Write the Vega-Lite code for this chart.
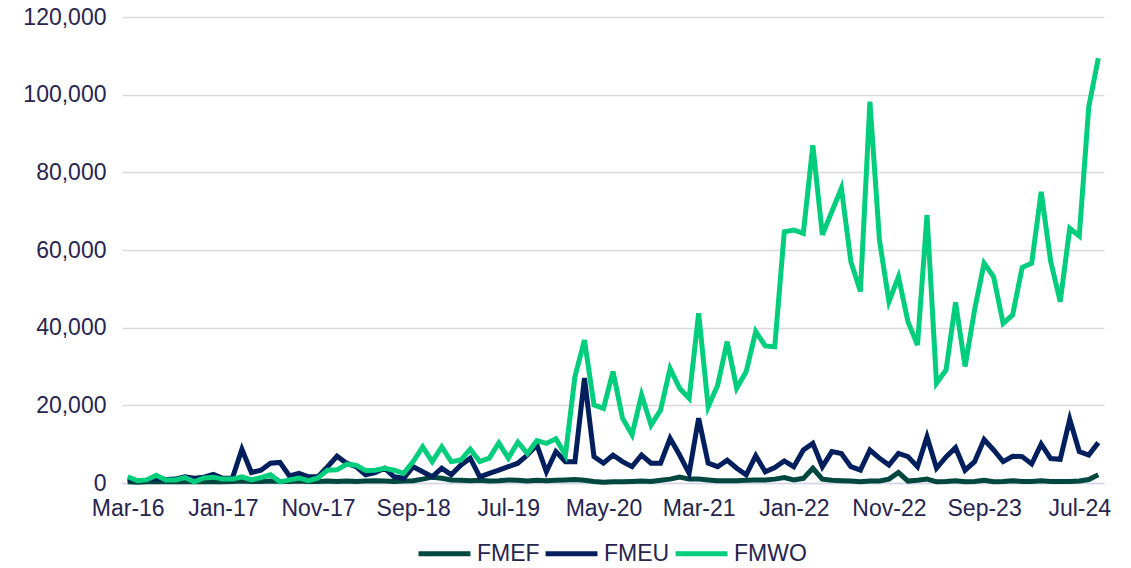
{
  "$schema": "https://vega.github.io/schema/vega-lite/v6.json",
  "autosize": {"type": "none"},
  "width": 982,
  "height": 466,
  "padding": {"left": 122, "top": 17, "right": 27, "bottom": 85},
  "background": "white",
  "config": {
    "view": {"stroke": null},
    "font": "Liberation Sans",
    "axis": {"labelFont": "Liberation Sans", "labelFontSize": 23, "labelColor": "#27244F"},
    "legend": {"labelFont": "Liberation Sans", "labelFontSize": 23, "labelColor": "#27244F"}
  },
  "data": {"values": [
    {"m":"Mar-16","FMEF":300,"FMEU":1000,"FMWO":1600},
    {"m":"Apr-16","FMEF":200,"FMEU":600,"FMWO":600},
    {"m":"May-16","FMEF":300,"FMEU":700,"FMWO":800},
    {"m":"Jun-16","FMEF":400,"FMEU":1300,"FMWO":2000},
    {"m":"Jul-16","FMEF":300,"FMEU":900,"FMWO":800},
    {"m":"Aug-16","FMEF":300,"FMEU":1000,"FMWO":800},
    {"m":"Sep-16","FMEF":400,"FMEU":1600,"FMWO":1400},
    {"m":"Oct-16","FMEF":300,"FMEU":1200,"FMWO":300},
    {"m":"Nov-16","FMEF":300,"FMEU":1500,"FMWO":1300},
    {"m":"Dec-16","FMEF":400,"FMEU":2200,"FMWO":1500},
    {"m":"Jan-17","FMEF":300,"FMEU":1200,"FMWO":1000},
    {"m":"Feb-17","FMEF":400,"FMEU":1200,"FMWO":1000},
    {"m":"Mar-17","FMEF":500,"FMEU":8700,"FMWO":1600},
    {"m":"Apr-17","FMEF":400,"FMEU":2700,"FMWO":800},
    {"m":"May-17","FMEF":400,"FMEU":3300,"FMWO":1400},
    {"m":"Jun-17","FMEF":500,"FMEU":5100,"FMWO":2100},
    {"m":"Jul-17","FMEF":400,"FMEU":5300,"FMWO":300},
    {"m":"Aug-17","FMEF":400,"FMEU":1800,"FMWO":800},
    {"m":"Sep-17","FMEF":500,"FMEU":2500,"FMWO":1300},
    {"m":"Oct-17","FMEF":400,"FMEU":1600,"FMWO":600},
    {"m":"Nov-17","FMEF":400,"FMEU":1600,"FMWO":1300},
    {"m":"Dec-17","FMEF":500,"FMEU":4200,"FMWO":3300},
    {"m":"Jan-18","FMEF":400,"FMEU":6900,"FMWO":3400},
    {"m":"Feb-18","FMEF":500,"FMEU":5100,"FMWO":4800},
    {"m":"Mar-18","FMEF":400,"FMEU":4200,"FMWO":4600},
    {"m":"Apr-18","FMEF":500,"FMEU":2100,"FMWO":3200},
    {"m":"May-18","FMEF":600,"FMEU":2700,"FMWO":3300},
    {"m":"Jun-18","FMEF":500,"FMEU":3800,"FMWO":3800},
    {"m":"Jul-18","FMEF":400,"FMEU":1600,"FMWO":3300},
    {"m":"Aug-18","FMEF":500,"FMEU":1200,"FMWO":2500},
    {"m":"Sep-18","FMEF":600,"FMEU":4200,"FMWO":5500},
    {"m":"Oct-18","FMEF":1000,"FMEU":2900,"FMWO":9300},
    {"m":"Nov-18","FMEF":1500,"FMEU":1600,"FMWO":5500},
    {"m":"Dec-18","FMEF":1200,"FMEU":3800,"FMWO":9300},
    {"m":"Jan-19","FMEF":800,"FMEU":2100,"FMWO":5500},
    {"m":"Feb-19","FMEF":700,"FMEU":4600,"FMWO":5900},
    {"m":"Mar-19","FMEF":600,"FMEU":6400,"FMWO":8700},
    {"m":"Apr-19","FMEF":700,"FMEU":1600,"FMWO":5500},
    {"m":"May-19","FMEF":500,"FMEU":2500,"FMWO":6400},
    {"m":"Jun-19","FMEF":600,"FMEU":3300,"FMWO":10300},
    {"m":"Jul-19","FMEF":800,"FMEU":4200,"FMWO":6400},
    {"m":"Aug-19","FMEF":700,"FMEU":5100,"FMWO":10500},
    {"m":"Sep-19","FMEF":500,"FMEU":7200,"FMWO":7600},
    {"m":"Oct-19","FMEF":700,"FMEU":9800,"FMWO":10900},
    {"m":"Nov-19","FMEF":600,"FMEU":2900,"FMWO":10200},
    {"m":"Dec-19","FMEF":700,"FMEU":8100,"FMWO":11400},
    {"m":"Jan-20","FMEF":800,"FMEU":5500,"FMWO":7200},
    {"m":"Feb-20","FMEF":900,"FMEU":5500,"FMWO":27400},
    {"m":"Mar-20","FMEF":700,"FMEU":27000,"FMWO":36800},
    {"m":"Apr-20","FMEF":400,"FMEU":6800,"FMWO":20100},
    {"m":"May-20","FMEF":200,"FMEU":5100,"FMWO":19200},
    {"m":"Jun-20","FMEF":300,"FMEU":7200,"FMWO":28700},
    {"m":"Jul-20","FMEF":300,"FMEU":5500,"FMWO":16700},
    {"m":"Aug-20","FMEF":400,"FMEU":4200,"FMWO":12400},
    {"m":"Sep-20","FMEF":500,"FMEU":7200,"FMWO":22700},
    {"m":"Oct-20","FMEF":400,"FMEU":5100,"FMWO":14900},
    {"m":"Nov-20","FMEF":700,"FMEU":5100,"FMWO":18800},
    {"m":"Dec-20","FMEF":1000,"FMEU":11500,"FMWO":29500},
    {"m":"Jan-21","FMEF":1500,"FMEU":7200,"FMWO":24400},
    {"m":"Feb-21","FMEF":1000,"FMEU":2500,"FMWO":21800},
    {"m":"Mar-21","FMEF":1000,"FMEU":16700,"FMWO":43700},
    {"m":"Apr-21","FMEF":800,"FMEU":5100,"FMWO":19600},
    {"m":"May-21","FMEF":600,"FMEU":4200,"FMWO":25200},
    {"m":"Jun-21","FMEF":600,"FMEU":5900,"FMWO":36400},
    {"m":"Jul-21","FMEF":600,"FMEU":3800,"FMWO":24400},
    {"m":"Aug-21","FMEF":700,"FMEU":2100,"FMWO":28700},
    {"m":"Sep-21","FMEF":800,"FMEU":7000,"FMWO":39000},
    {"m":"Oct-21","FMEF":800,"FMEU":2900,"FMWO":35300},
    {"m":"Nov-21","FMEF":1000,"FMEU":4000,"FMWO":35100},
    {"m":"Dec-21","FMEF":1400,"FMEU":5700,"FMWO":64700},
    {"m":"Jan-22","FMEF":800,"FMEU":4200,"FMWO":65150},
    {"m":"Feb-22","FMEF":1200,"FMEU":8500,"FMWO":64300},
    {"m":"Mar-22","FMEF":3800,"FMEU":10200,"FMWO":87000},
    {"m":"Apr-22","FMEF":1000,"FMEU":4200,"FMWO":63900},
    {"m":"May-22","FMEF":700,"FMEU":8100,"FMWO":69900},
    {"m":"Jun-22","FMEF":600,"FMEU":7600,"FMWO":75900},
    {"m":"Jul-22","FMEF":500,"FMEU":4200,"FMWO":57000},
    {"m":"Aug-22","FMEF":300,"FMEU":3300,"FMWO":49300},
    {"m":"Sep-22","FMEF":500,"FMEU":8500,"FMWO":98200},
    {"m":"Oct-22","FMEF":500,"FMEU":6400,"FMWO":62600},
    {"m":"Nov-22","FMEF":1000,"FMEU":4600,"FMWO":46700},
    {"m":"Dec-22","FMEF":2700,"FMEU":7600,"FMWO":53100},
    {"m":"Jan-23","FMEF":500,"FMEU":6800,"FMWO":41500},
    {"m":"Feb-23","FMEF":700,"FMEU":4200,"FMWO":35500},
    {"m":"Mar-23","FMEF":1000,"FMEU":11900,"FMWO":69000},
    {"m":"Apr-23","FMEF":300,"FMEU":3800,"FMWO":25700},
    {"m":"May-23","FMEF":400,"FMEU":6700,"FMWO":29100},
    {"m":"Jun-23","FMEF":600,"FMEU":9100,"FMWO":46500},
    {"m":"Jul-23","FMEF":300,"FMEU":3300,"FMWO":30000},
    {"m":"Aug-23","FMEF":400,"FMEU":5500,"FMWO":44600},
    {"m":"Sep-23","FMEF":700,"FMEU":11200,"FMWO":56600},
    {"m":"Oct-23","FMEF":300,"FMEU":8500,"FMWO":53100},
    {"m":"Nov-23","FMEF":400,"FMEU":5500,"FMWO":41100},
    {"m":"Dec-23","FMEF":600,"FMEU":6900,"FMWO":43300},
    {"m":"Jan-24","FMEF":400,"FMEU":6800,"FMWO":55500},
    {"m":"Feb-24","FMEF":400,"FMEU":4900,"FMWO":56600},
    {"m":"Mar-24","FMEF":600,"FMEU":10000,"FMWO":75000},
    {"m":"Apr-24","FMEF":400,"FMEU":6300,"FMWO":57000},
    {"m":"May-24","FMEF":400,"FMEU":6100,"FMWO":46700},
    {"m":"Jun-24","FMEF":400,"FMEU":16400,"FMWO":65600},
    {"m":"Jul-24","FMEF":500,"FMEU":8100,"FMWO":63600},
    {"m":"Aug-24","FMEF":900,"FMEU":7200,"FMWO":96900},
    {"m":"Sep-24","FMEF":2100,"FMEU":10400,"FMWO":109400}
  ]},
  "transform": [{"fold": ["FMEF", "FMEU", "FMWO"], "as": ["series", "value"]}],
  "mark": {"type": "line", "strokeWidth": 5, "strokeJoin": "miter", "strokeCap": "butt"},
  "encoding": {
    "x": {
      "field": "m", "type": "ordinal", "sort": null,
      "scale": {"type": "point", "padding": 0.6},
      "axis": {
        "title": null,
        "values": ["Mar-16","Jan-17","Nov-17","Sep-18","Jul-19","May-20","Mar-21","Jan-22","Nov-22","Sep-23","Jul-24"],
        "labelAngle": 0, "ticks": false, "labelPadding": 14,
        "domainColor": "#D5D5EE", "domainWidth": 1.5, "grid": false
      }
    },
    "y": {
      "field": "value", "type": "quantitative",
      "scale": {"domain": [0, 120000], "nice": false},
      "axis": {
        "title": null, "values": [0, 20000, 40000, 60000, 80000, 100000, 120000],
        "format": ",d", "ticks": false, "domain": false, "labelPadding": 16,
        "gridColor": "#D9D9D9", "gridWidth": 1.5
      }
    },
    "color": {
      "field": "series", "type": "nominal",
      "scale": {"domain": ["FMEF", "FMEU", "FMWO"], "range": ["#00473F", "#001F5C", "#00CE7C"]},
      "legend": {
        "title": null, "orient": "none", "direction": "horizontal",
        "legendX": 294, "legendY": 508,
        "symbolType": "stroke", "symbolSize": 2700, "symbolStrokeWidth": 5,
        "labelOffset": 4, "columnPadding": -5
      }
    }
  }
}
